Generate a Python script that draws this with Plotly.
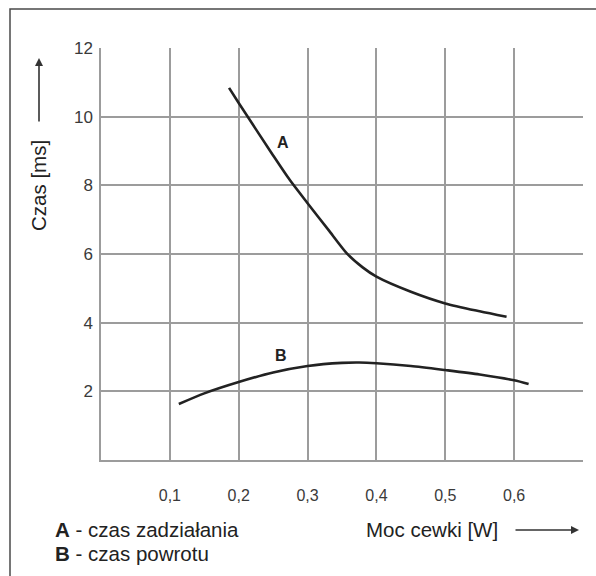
import plotly.graph_objects as go

# Curve A - czas zadziałania
a_x = [0.186, 0.20, 0.25, 0.274, 0.30, 0.33, 0.357, 0.38, 0.40, 0.45, 0.50, 0.55, 0.589]
a_y = [10.84, 10.40, 8.87, 8.16, 7.48, 6.71, 6.02, 5.61, 5.34, 4.90, 4.56, 4.33, 4.17]
# Curve B - czas powrotu
b_x = [0.113, 0.15, 0.20, 0.25, 0.30, 0.35, 0.375, 0.40, 0.45, 0.50, 0.55, 0.60, 0.621]
b_y = [1.63, 1.94, 2.27, 2.55, 2.74, 2.83, 2.84, 2.82, 2.74, 2.62, 2.49, 2.32, 2.21]

x_ticks = [0.1, 0.2, 0.3, 0.4, 0.5, 0.6]
x_tick_labels = ["0,1", "0,2", "0,3", "0,4", "0,5", "0,6"]
y_ticks = [2, 4, 6, 8, 10, 12]
y_tick_labels = ["2", "4", "6", "8", "10", "12"]

FONT = "Liberation Sans, Arial, Helvetica, sans-serif"
GRID = "#9c9c9c"
INK = "#222222"

fig = go.Figure()
fig.add_trace(go.Scatter(x=a_x, y=a_y, mode="lines",
                         line=dict(color=INK, width=2.6, shape="spline", smoothing=0.7),
                         hoverinfo="skip", showlegend=False))
fig.add_trace(go.Scatter(x=b_x, y=b_y, mode="lines",
                         line=dict(color=INK, width=2.6, shape="spline", smoothing=0.7),
                         hoverinfo="skip", showlegend=False))

W, H = 596, 576
L, R, T, B = 101, 13, 48, 116
pw, ph = W - L - R, H - T - B


def px(xp):
    return (xp - L) / pw


def py(yp):
    return (H - B - yp) / ph


fig.update_layout(
    width=W, height=H,
    margin=dict(l=L, r=R, t=T, b=B),
    paper_bgcolor="white", plot_bgcolor="white",
    font=dict(family=FONT, color="#333333", size=16),
    xaxis=dict(range=[0, 0.7], tickvals=x_ticks, ticktext=x_tick_labels,
               showgrid=True, gridcolor=GRID, gridwidth=1.5,
               showline=True, linecolor=GRID, linewidth=1.5,
               zeroline=False, ticks="", ticklabelstandoff=20,
               tickfont=dict(size=16, color="#3a3a3a")),
    yaxis=dict(range=[0, 12], tickvals=y_ticks, ticktext=y_tick_labels,
               showgrid=True, gridcolor=GRID, gridwidth=1.5,
               showline=True, linecolor=GRID, linewidth=1.5,
               zeroline=False, ticks="", ticklabelstandoff=3,
               tickfont=dict(size=17, color="#3a3a3a")),
)

# Frame around the figure
fig.add_shape(type="rect", xref="paper", yref="paper",
              x0=px(10), x1=px(603), y0=py(583), y1=py(9),
              line=dict(color="#4a4a4a", width=1.5), layer="below")

ann = []
# Curve labels
ann.append(dict(x=0.264, y=9.26, xref="x", yref="y", text="<b>A</b>", showarrow=False,
                xanchor="center", yanchor="middle",
                font=dict(size=16, color=INK, family=FONT)))
ann.append(dict(x=0.261, y=3.03, xref="x", yref="y", text="<b>B</b>", showarrow=False,
                xanchor="center", yanchor="middle",
                font=dict(size=16, color=INK, family=FONT)))
# Axis titles
ann.append(dict(x=px(39), y=py(186), xref="paper", yref="paper", text="Czas [ms]", textangle=-90,
                xanchor="center", yanchor="middle",
                showarrow=False, font=dict(size=20.5, color=INK, family=FONT)))
ann.append(dict(x=px(432), y=py(529), xref="paper", yref="paper", text="Moc cewki [W]",
                xanchor="center", yanchor="middle",
                showarrow=False, font=dict(size=20.5, color=INK, family=FONT)))
# Arrows
ann.append(dict(x=px(39), y=py(58), xref="paper", yref="paper", text="", showarrow=True,
                ax=0, ay=65, arrowhead=2, arrowsize=1, arrowwidth=1.6, arrowcolor="#333333"))
ann.append(dict(x=px(579), y=py(530), xref="paper", yref="paper", text="", showarrow=True,
                ax=-65, ay=0, arrowhead=2, arrowsize=1, arrowwidth=1.6, arrowcolor="#333333"))
# Legend text
ann.append(dict(x=px(53), y=py(529), xref="paper", yref="paper", xanchor="left", yanchor="middle",
                text="<b>A</b> - czas zadziałania", showarrow=False,
                font=dict(size=20.5, color=INK, family=FONT)))
ann.append(dict(x=px(53), y=py(553), xref="paper", yref="paper", xanchor="left", yanchor="middle",
                text="<b>B</b> - czas powrotu", showarrow=False,
                font=dict(size=20.5, color=INK, family=FONT)))
fig.update_layout(annotations=ann)

fig.write_html("out.html", config={"displayModeBar": False},
               post_script="document.body.style.margin='0';")
